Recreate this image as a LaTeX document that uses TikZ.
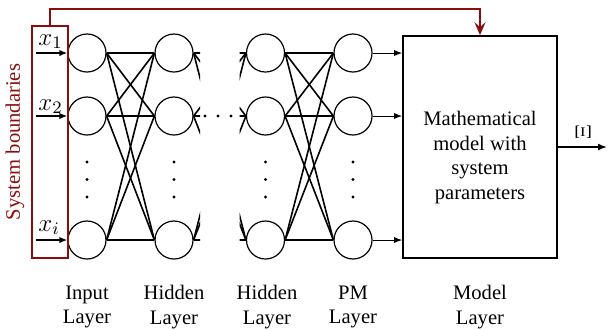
\RequirePackage{fix-cm}
\documentclass[tikz,border=0pt]{standalone}
\usepackage{fontspec}
\setmainfont{Liberation Serif}
\usetikzlibrary{arrows.meta}
\definecolor{sysred}{RGB}{139,12,12}
\begin{document}
\begin{tikzpicture}[x=0.5pt,y=-0.5pt,
  font=\fontsize{10.3}{12.2}\selectfont,
  neuron/.style={circle,draw,line width=0.6pt,minimum size=19pt,inner sep=0pt},
  conn/.style={line width=0.8pt},
  dotnode/.style={circle,fill,inner sep=0pt,minimum size=1.6pt},
  laylabel/.style={align=center,inner sep=0pt},
  xlabel/.style={anchor=base west,inner sep=0pt,font=\fontsize{12.5}{14}\selectfont},
  feed/.style={line width=0.5pt,-{Latex[length=4pt,width=3pt]}},
  inarrow/.style={line width=0.8pt,-{Latex[length=4pt,width=3.2pt]}}]
\useasboundingbox (0,0) rectangle (609,329);

% neurons
\foreach \c/\x in {1/87,2/174,3/265.5,4/353}{
  \foreach \r/\y in {1/53,2/116,3/240}{
    \node[neuron] (n-\c-\r) at (\x,\y) {};
  }
  \node[dotnode] (d-\c-1) at (\x,162) {};
  \node[dotnode] (d-\c-2) at (\x,179.5) {};
  \node[dotnode] (d-\c-3) at (\x,197) {};
}
\node[dotnode] (h-1) at (205,116) {};
\node[dotnode] (h-2) at (218,116) {};
\node[dotnode] (h-3) at (231,116) {};

% virtual ends for cut connections
\foreach \r/\y in {1/53,2/116,3/240}{
  \coordinate (va-\r) at (242,\y);
  \coordinate (vb-\r) at (197.5,\y);
}

% full connections
\foreach \i in {1,2,3}{
  \foreach \j in {1,2,3}{
    \draw[conn] (n-1-\i.east) -- (n-2-\j.west);
    \draw[conn] (n-3-\i.east) -- (n-4-\j.west);
  }
}
% cut connections
\begin{scope}
  \clip (190,0) rectangle (200,329);
  \foreach \i in {1,2,3}{\foreach \j in {1,2,3}{
    \draw[conn] (n-2-\i.east) -- (va-\j);
  }}
\end{scope}
\begin{scope}
  \clip (239.5,0) rectangle (250,329);
  \foreach \i in {1,2,3}{\foreach \j in {1,2,3}{
    \draw[conn] (vb-\i) -- (n-3-\j.west);
  }}
\end{scope}

% model box
\node[draw,line width=0.8pt,minimum width=77pt,minimum height=111pt,inner sep=0pt] (model) at (480,147) {};
\node[align=center,inner sep=0pt] (mtext) at (480,157.5) {Mathematical\\model with\\system\\parameters};
\foreach \r in {1,2,3}{
  \draw[feed] (n-4-\r.east) -- (n-4-\r.east -| model.west);
}
\coordinate (out) at (607,147);
\draw[line width=0.8pt,-{Latex[length=4.5pt,width=3.5pt]}] (model.east) -- (out);
\node[rotate=90,inner sep=0pt,font=\fontsize{11}{13}\selectfont] (xi) at (583,132) {$\Xi$};

% inputs
\foreach \r/\y in {1/53,2/116,3/240}{
  \coordinate (in-\r) at (36,\y);
  \draw[inarrow] (in-\r) -- (n-1-\r.west);
}
\node[xlabel] (lx1) at (38,45) {$x_1$};
\node[xlabel] (lx2) at (38,110) {$x_2$};
\node[xlabel] (lx3) at (38,231) {$x_i$};

% system boundary
\node[draw=sysred,line width=1pt,minimum width=18pt,minimum height=116pt,inner sep=0pt] (sys) at (50,142) {};
\node[rotate=90,text=sysred,inner sep=0pt] (syslabel) at (15,142) {System boundaries};
\coordinate (r1) at (50,9);
\coordinate (r2) at (480,9);
\draw[sysred,line width=0.9pt,-{Stealth[length=6.5pt,width=5.5pt,inset=2.5pt]}] (sys.north) -- (r1) -- (r2) -- (model.north);

% layer labels
\node[laylabel] (lab1) at (87,307) {Input\\Layer};
\node[laylabel] (lab2) at (174,307) {Hidden\\Layer};
\node[laylabel] (lab3) at (267,307) {Hidden\\Layer};
\node[laylabel] (lab4) at (353,307) {PM\\Layer};
\node[laylabel] (lab5) at (480,307) {Model\\Layer};
\end{tikzpicture}
\end{document}
